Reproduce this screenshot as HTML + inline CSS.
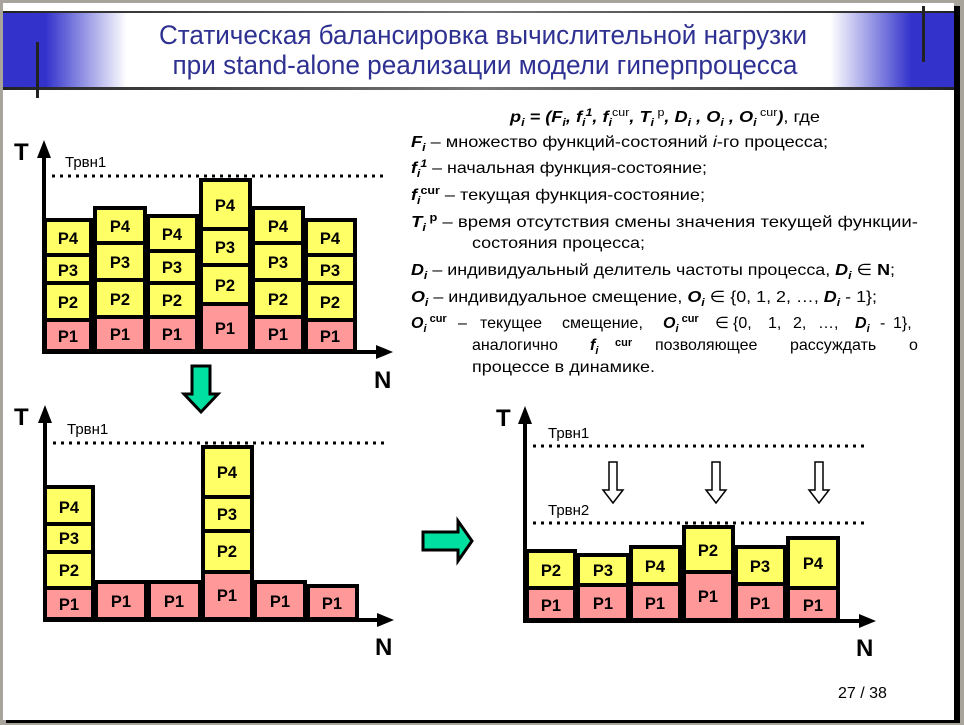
<!DOCTYPE html>
<html><head><meta charset="utf-8"><style>
html,body{margin:0;padding:0;background:#a8a49c;}
svg{display:block;}
</style></head><body>
<svg width="964" height="725" viewBox="0 0 964 725" xmlns="http://www.w3.org/2000/svg" font-family="Liberation Sans, DejaVu Sans, sans-serif">
<defs>
<linearGradient id="band" x1="0" x2="1" y1="0" y2="0">
<stop offset="0" stop-color="#3333cc"/><stop offset="0.045" stop-color="#3333cc"/>
<stop offset="0.13" stop-color="#ffffff"/><stop offset="0.87" stop-color="#ffffff"/>
<stop offset="0.955" stop-color="#3333cc"/><stop offset="1" stop-color="#3333cc"/>
</linearGradient>
<linearGradient id="ln" x1="0" x2="1"><stop offset="0" stop-color="#222"/><stop offset="0.5" stop-color="#777"/><stop offset="1" stop-color="#222"/></linearGradient>
</defs>
<rect x="0" y="0" width="964" height="725" fill="#a8a49c"/>
<rect x="6" y="6" width="954" height="717" fill="#000"/>
<rect x="3" y="3" width="951" height="717" fill="#fff"/>
<rect x="3" y="11" width="951" height="77" fill="url(#band)"/>
<rect x="3" y="11" width="951" height="2" fill="url(#ln)"/>
<rect x="3" y="87" width="951" height="3" fill="url(#ln)"/>
<rect x="36" y="42" width="3" height="56" fill="#222"/>
<rect x="922" y="6" width="3" height="56" fill="#222"/>
<g fill="#2e3192" font-size="27">
<text x="483" y="44" text-anchor="middle" textLength="648" lengthAdjust="spacingAndGlyphs">Статическая балансировка вычислительной нагрузки</text>
<text x="485" y="74" text-anchor="middle" textLength="625" lengthAdjust="spacingAndGlyphs">при stand-alone реализации модели гиперпроцесса</text>
</g>

<g font-size="16" fill="#000">
<text x="510" y="122" textLength="310" lengthAdjust="spacingAndGlyphs"><tspan font-weight="bold" font-style="italic">p<tspan font-size="11" dy="4">i</tspan><tspan dy="-4"> = (F</tspan><tspan font-size="11" dy="4">i</tspan><tspan dy="-4">, f</tspan><tspan font-size="11" dy="4">i</tspan><tspan font-size="11" dy="-10">1</tspan><tspan dy="6">, f</tspan><tspan font-size="11" dy="4">i</tspan><tspan font-size="11" dy="-10" font-style="normal" font-weight="normal">cur</tspan><tspan dy="6">, T</tspan><tspan font-size="11" dy="4">i</tspan><tspan font-size="11" dy="-10" font-style="normal" font-weight="normal"> p</tspan><tspan dy="6">, D</tspan><tspan font-size="11" dy="4">i</tspan><tspan dy="-4"> , O</tspan><tspan font-size="11" dy="4">i</tspan><tspan dy="-4"> , O</tspan><tspan font-size="11" dy="4">i</tspan><tspan font-size="11" dy="-10" font-style="normal" font-weight="normal"> cur</tspan><tspan dy="6">)</tspan></tspan>, где</text>
<text x="411" y="147" textLength="417" lengthAdjust="spacingAndGlyphs"><tspan font-weight="bold" font-style="italic">F<tspan font-size="11" dy="4">i</tspan></tspan><tspan dy="-4"> – множество функций-состояний </tspan><tspan font-style="italic">i</tspan>-го процесса;</text>
<text x="411" y="173" textLength="296" lengthAdjust="spacingAndGlyphs"><tspan font-weight="bold" font-style="italic">f<tspan font-size="11" dy="4">i</tspan><tspan font-size="11" dy="-10">1</tspan></tspan><tspan dy="6"> – начальная функция-состояние;</tspan></text>
<text x="411" y="200" textLength="294" lengthAdjust="spacingAndGlyphs"><tspan font-weight="bold" font-style="italic">f<tspan font-size="11" dy="4">i</tspan></tspan><tspan font-size="11" dy="-10" font-weight="bold">cur</tspan><tspan dy="6"> – текущая функция-состояние;</tspan></text>
<text x="411" y="227" textLength="507" lengthAdjust="spacingAndGlyphs"><tspan font-weight="bold" font-style="italic">T<tspan font-size="11" dy="4">i</tspan></tspan><tspan font-size="11" dy="-10" font-weight="bold"> p</tspan><tspan dy="6"> – время отсутствия смены значения текущей функции-</tspan></text>
<text x="472" y="248" textLength="173" lengthAdjust="spacingAndGlyphs">состояния процесса;</text>
<text x="411" y="275" textLength="484" lengthAdjust="spacingAndGlyphs"><tspan font-weight="bold" font-style="italic">D<tspan font-size="11" dy="4">i</tspan></tspan><tspan dy="-4"> – индивидуальный делитель частоты процесса, </tspan><tspan font-weight="bold" font-style="italic">D<tspan font-size="11" dy="4">i</tspan></tspan><tspan dy="-4"> ∈ </tspan><tspan font-weight="bold">N</tspan>;</text>
<text x="411" y="302" textLength="466" lengthAdjust="spacingAndGlyphs"><tspan font-weight="bold" font-style="italic">O<tspan font-size="11" dy="4">i</tspan></tspan><tspan dy="-4"> – индивидуальное смещение, </tspan><tspan font-weight="bold" font-style="italic">O<tspan font-size="11" dy="4">i</tspan></tspan><tspan dy="-4"> ∈ {0, 1, 2, …, </tspan><tspan font-weight="bold" font-style="italic">D<tspan font-size="11" dy="4">i</tspan></tspan><tspan dy="-4"> - 1};</tspan></text>
<!-- justified line positioned per word -->
<text x="411" y="328"><tspan font-weight="bold" font-style="italic">O<tspan font-size="11" dy="4">i</tspan></tspan><tspan font-size="11" dy="-10" font-weight="bold"> cur</tspan></text>
<text x="458" y="328">–</text>
<text x="480" y="328">текущее</text>
<text x="562" y="328">смещение,</text>
<text x="663" y="328"><tspan font-weight="bold" font-style="italic">O<tspan font-size="11" dy="4">i</tspan></tspan><tspan font-size="11" dy="-10" font-weight="bold"> cur</tspan></text>
<text x="715" y="328">∈</text>
<text x="733" y="328">{0,</text>
<text x="768" y="328">1,</text>
<text x="793" y="328">2,</text>
<text x="818" y="328">…,</text>
<text x="855" y="328"><tspan font-weight="bold" font-style="italic">D<tspan font-size="11" dy="4">i</tspan></tspan></text>
<text x="880" y="328">-</text>
<text x="893" y="328">1},</text>
<text x="472" y="350">аналогично</text>
<text x="590" y="350"><tspan font-weight="bold" font-style="italic">f<tspan font-size="11" dy="4">i</tspan></tspan></text>
<text x="615" y="346" font-size="11" font-weight="bold">cur</text>
<text x="655" y="350">позволяющее</text>
<text x="790" y="350">рассуждать</text>
<text x="909" y="350">о</text>
<text x="472" y="372" textLength="183" lengthAdjust="spacingAndGlyphs">процессе в динамике.</text>
</g>

<g stroke="#000" stroke-width="4">
<rect x="45" y="220" width="46" height="35" fill="#ffff66"/><rect x="45" y="255" width="46" height="28" fill="#ffff66"/><rect x="45" y="283" width="46" height="37" fill="#ffff66"/><rect x="45" y="320" width="46" height="31" fill="#ff9999"/>
<rect x="95" y="208" width="50" height="35" fill="#ffff66"/><rect x="95" y="243" width="50" height="37" fill="#ffff66"/><rect x="95" y="280" width="50" height="37" fill="#ffff66"/><rect x="95" y="317" width="50" height="34" fill="#ff9999"/>
<rect x="148" y="216" width="49" height="35" fill="#ffff66"/><rect x="148" y="251" width="49" height="32" fill="#ffff66"/><rect x="148" y="283" width="49" height="34" fill="#ffff66"/><rect x="148" y="317" width="49" height="34" fill="#ff9999"/>
<rect x="201" y="180" width="49" height="49" fill="#ffff66"/><rect x="201" y="229" width="49" height="36" fill="#ffff66"/><rect x="201" y="265" width="49" height="39" fill="#ffff66"/><rect x="201" y="304" width="49" height="47" fill="#ff9999"/>
<rect x="253" y="208" width="50" height="35" fill="#ffff66"/><rect x="253" y="243" width="50" height="37" fill="#ffff66"/><rect x="253" y="280" width="50" height="37" fill="#ffff66"/><rect x="253" y="317" width="50" height="34" fill="#ff9999"/>
<rect x="306" y="220" width="49" height="35" fill="#ffff66"/><rect x="306" y="255" width="49" height="28" fill="#ffff66"/><rect x="306" y="283" width="49" height="37" fill="#ffff66"/><rect x="306" y="320" width="49" height="31" fill="#ff9999"/>
<rect x="45" y="487" width="48" height="37" fill="#ffff66"/><rect x="45" y="524" width="48" height="28" fill="#ffff66"/><rect x="45" y="552" width="48" height="36" fill="#ffff66"/><rect x="45" y="588" width="48" height="31" fill="#ff9999"/>
<rect x="96" y="582" width="50" height="37" fill="#ff9999"/>
<rect x="149" y="582" width="51" height="37" fill="#ff9999"/>
<rect x="203" y="447" width="49" height="50" fill="#ffff66"/><rect x="203" y="497" width="49" height="34" fill="#ffff66"/><rect x="203" y="531" width="49" height="41" fill="#ffff66"/><rect x="203" y="572" width="49" height="47" fill="#ff9999"/>
<rect x="255" y="582" width="50" height="37" fill="#ff9999"/>
<rect x="308" y="586" width="49" height="33" fill="#ff9999"/>
<rect x="527" y="551" width="48" height="37" fill="#ffff66"/><rect x="527" y="588" width="48" height="32" fill="#ff9999"/>
<rect x="578" y="555" width="50" height="30" fill="#ffff66"/><rect x="578" y="585" width="50" height="35" fill="#ff9999"/>
<rect x="631" y="547" width="49" height="37" fill="#ffff66"/><rect x="631" y="584" width="49" height="36" fill="#ff9999"/>
<rect x="684" y="527" width="49" height="45" fill="#ffff66"/><rect x="684" y="572" width="49" height="48" fill="#ff9999"/>
<rect x="736" y="547" width="49" height="37" fill="#ffff66"/><rect x="736" y="584" width="49" height="36" fill="#ff9999"/>
<rect x="788" y="538" width="50" height="50" fill="#ffff66"/><rect x="788" y="588" width="50" height="32" fill="#ff9999"/>
</g>

<g stroke="#000" stroke-width="4" fill="none">
<path d="M44 152 V352 H380"/>
<path d="M45 417 V620 H380"/>
<path d="M525 418 V621 H862"/>
</g>
<g fill="#000">
<polygon points="44,140 37,158 51,158"/><polygon points="393,352 376,345 376,359"/>
<polygon points="45,405 38,423 52,423"/><polygon points="394,620 377,613 377,627"/>
<polygon points="525,406 518,424 532,424"/><polygon points="876,621 859,614 859,628"/>
</g>
<g stroke="#000" stroke-width="3" stroke-dasharray="3,5">
<line x1="52" y1="176" x2="385" y2="176"/>
<line x1="53" y1="443" x2="385" y2="443"/>
<line x1="533" y1="446" x2="866" y2="446"/>
<line x1="533" y1="523" x2="866" y2="523"/>
</g>
<g font-size="15" fill="#000">
<text x="65" y="167">Трвн1</text>
<text x="67" y="434">Трвн1</text>
<text x="548" y="438">Трвн1</text>
<text x="548" y="515">Трвн2</text>
</g>
<g font-size="24" font-weight="bold" fill="#000">
<text x="14" y="160">T</text><text x="374" y="388">N</text>
<text x="14" y="425">T</text><text x="375" y="655">N</text>
<text x="496" y="426">T</text><text x="856" y="656">N</text>
</g>

<g font-size="16.5" font-weight="bold" fill="#000" text-anchor="middle">
<text x="68" y="244">P4</text><text x="68" y="276">P3</text><text x="68" y="308">P2</text><text x="68" y="342">P1</text>
<text x="120" y="232">P4</text><text x="120" y="268">P3</text><text x="120" y="305">P2</text><text x="120" y="340">P1</text>
<text x="172" y="240">P4</text><text x="172" y="273">P3</text><text x="172" y="306">P2</text><text x="172" y="340">P1</text>
<text x="225" y="211">P4</text><text x="225" y="253">P3</text><text x="225" y="291">P2</text><text x="225" y="334">P1</text>
<text x="278" y="232">P4</text><text x="278" y="268">P3</text><text x="278" y="305">P2</text><text x="278" y="340">P1</text>
<text x="330" y="244">P4</text><text x="330" y="276">P3</text><text x="330" y="308">P2</text><text x="330" y="342">P1</text>

<text x="69" y="513">P4</text><text x="69" y="544">P3</text><text x="69" y="576">P2</text><text x="69" y="610">P1</text>
<text x="121" y="607">P1</text><text x="174" y="607">P1</text>
<text x="227" y="478">P4</text><text x="227" y="520">P3</text><text x="227" y="557">P2</text><text x="227" y="601">P1</text>
<text x="280" y="607">P1</text><text x="332" y="609">P1</text>

<text x="551" y="576">P2</text><text x="551" y="611">P1</text>
<text x="603" y="576">P3</text><text x="603" y="609">P1</text>
<text x="655" y="572">P4</text><text x="655" y="609">P1</text>
<text x="708" y="556">P2</text><text x="708" y="602">P1</text>
<text x="760" y="572">P3</text><text x="760" y="609">P1</text>
<text x="813" y="569">P4</text><text x="813" y="611">P1</text>
</g>

<polygon points="192,366 210,366 210,394 218,394 201,412 184,394 192,394" fill="#00e0a0" stroke="#000" stroke-width="3"/>
<polygon points="423,532 458,532 458,521 472,541 458,561 458,550 423,550" fill="#00e0a0" stroke="#000" stroke-width="3"/>

<g fill="#fff" stroke="#000" stroke-width="1.5">
<polygon points="609,462 617,462 617,490 623,490 613,503 603,490 609,490"/>
<polygon points="712,462 720,462 720,490 726,490 716,503 706,490 712,490"/>
<polygon points="815,462 823,462 823,490 829,490 819,503 809,490 815,490"/>
</g>

<text x="838" y="698" font-size="16" fill="#000">27 / 38</text>
</svg>
</body></html>
